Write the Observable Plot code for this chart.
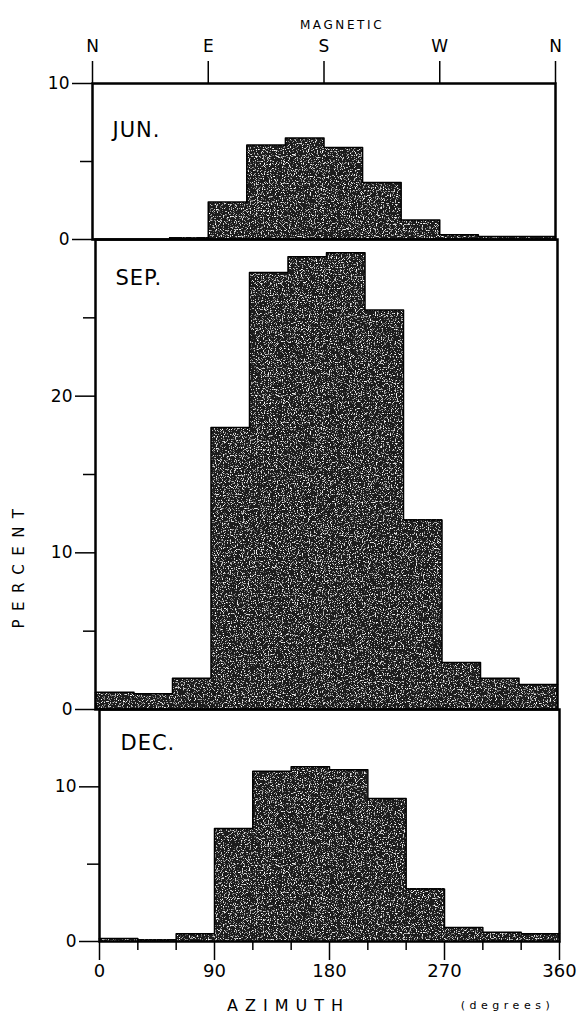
<!DOCTYPE html>
<html>
<head>
<meta charset="utf-8">
<script src="https://cdn.jsdelivr.net/npm/d3@7"></script>
<script src="https://cdn.jsdelivr.net/npm/@observablehq/plot@0.6"></script>
<style>
  html, body { margin: 0; padding: 0; background: #fff; }
  #chart { width: 585px; }
  #chart svg { display: block; overflow: visible; }
  #chart g[aria-label="rect"] { filter: url(#grain); }
  #chart g[aria-label="rect"] rect { shape-rendering: crispEdges; }
</style>
</head>
<body>
<svg width="0" height="0" style="position:absolute">
  <defs>
    <filter id="grain" x="0" y="0" width="100%" height="100%">
      <feTurbulence type="fractalNoise" baseFrequency="0.85" numOctaves="2" seed="4" result="noise"/>
      <feColorMatrix in="noise" type="matrix"
        values="0 0 0 0 1  0 0 0 0 1  0 0 0 0 1  0 0 0 5 -2.8" result="speck"/>
      <feComposite in="speck" in2="SourceGraphic" operator="in" result="speckIn"/>
      <feMerge><feMergeNode in="SourceGraphic"/><feMergeNode in="speckIn"/></feMerge>
    </filter>
  </defs>
</svg>
<div id="chart"></div>
<script>
// ---- data ----
const binStarts = [0, 30, 60, 90, 120, 150, 180, 210, 240, 270, 300, 330];
const binWidth = 30;
const junValues = [0, 0, 0.1, 2.4, 6.05, 6.5, 5.9, 3.65, 1.25, 0.3, 0.2, 0.2];
const sepValues = [1.1, 1.0, 2.0, 18.0, 27.9, 28.9, 29.15, 25.5, 12.1, 3.0, 2.0, 1.6];
const decValues = [0.2, 0.1, 0.5, 7.3, 11.0, 11.3, 11.1, 9.25, 3.4, 0.9, 0.6, 0.5];
const monthLabels = ["JUN.", "SEP.", "DEC."];
const compassTicks = [0, 90, 180, 270, 360];
const compassLabels = ["N", "E", "S", "W", "N"];
const azimuthMajor = [0, 90, 180, 270, 360];
const azimuthMinor = [30, 60, 120, 150, 210, 240, 300, 330];
const xTitle = "AZIMUTH";
const xUnit = "(degrees)";
const yTitle = "PERCENT";
const topTitle = "MAGNETIC";

const FONT = "DejaVu Sans, Liberation Sans, sans-serif";
const BAR_FILL = "#1e1e1e";

function panel(values, o) {
  const rows = binStarts.map((s, i) => ({start: s, end: s + binWidth, value: values[i]}));
  // outline of the histogram as a step line (last bin closed at its end)
  const outline = rows.map(r => ({x: r.start, y: r.value}));
  outline.push({x: rows[rows.length - 1].end, y: rows[rows.length - 1].value});
  const marks = [
    Plot.rectY(rows, {x1: "start", x2: "end", y: "value", fill: BAR_FILL, inset: 0}),
    Plot.line(outline, {x: "x", y: "y", curve: "step-after", stroke: "#000", strokeWidth: 1.5}),
    Plot.ruleX(rows.filter((r, i) => i === 0 || values[i - 1] === 0), {x: "start", y1: 0, y2: "value", stroke: "#000", strokeWidth: 1.5}),
    Plot.frame({stroke: "#000", strokeWidth: 2.5}),
    Plot.axisY(o.yMajor, {tickSize: 20, tickPadding: 3, fontSize: 17, label: null, strokeWidth: 1.5}),
    Plot.axisY(o.yMinor, {tickSize: 12, tickFormat: () => "", label: null, strokeWidth: 1.5}),
    Plot.text([o.label], {frameAnchor: "top-left", dx: o.labelDx, dy: o.labelDy, lineAnchor: "top",
      textAnchor: "start", fontSize: 21, fill: "#000"}),
    ...(o.extra || [])
  ];
  return Plot.plot({
    width: 585,
    height: o.height,
    marginTop: o.marginTop,
    marginBottom: o.marginBottom,
    marginLeft: o.marginLeft,
    marginRight: o.marginRight,
    x: {domain: [0, 360], axis: null},
    y: {domain: [0, o.yMax], axis: null},
    style: {fontFamily: FONT, background: "transparent", overflow: "visible", color: "#000"},
    marks
  });
}

const junPlot = panel(junValues, {
  height: 239, marginTop: 83, marginBottom: 0, marginLeft: 92, marginRight: 30,
  yMax: 10, yMajor: [0, 10], yMinor: [5], label: monthLabels[0], labelDx: 20, labelDy: 39,
  extra: [
    Plot.axisX(compassTicks, {anchor: "top", tickSize: 23, tickPadding: 9, fontSize: 17, label: null,
      strokeWidth: 1.5, tickFormat: d => compassLabels[compassTicks.indexOf(d)]}),
    Plot.text([topTitle], {frameAnchor: "top", dx: 18, dy: -63, fontSize: 12, fill: "#000"})
  ]
});

const sepPlot = panel(sepValues, {
  height: 470, marginTop: 0, marginBottom: 0, marginLeft: 95, marginRight: 28,
  yMax: 30, yMajor: [0, 10, 20], yMinor: [5, 15, 25], label: monthLabels[1], labelDx: 20, labelDy: 31,
  extra: [
    Plot.text([yTitle], {frameAnchor: "left", dx: -76, dy: 154, rotate: -90, fontSize: 15, fill: "#000"})
  ]
});

const decPlot = panel(decValues, {
  height: 310, marginTop: 0, marginBottom: 78, marginLeft: 99, marginRight: 26,
  yMax: 15, yMajor: [0, 10], yMinor: [5], label: monthLabels[2], labelDx: 21, labelDy: 26,
  extra: [
    Plot.axisX(azimuthMajor, {anchor: "bottom", tickSize: 19, tickPadding: 4, fontSize: 18, label: null, strokeWidth: 1.5}),
    Plot.axisX(azimuthMinor, {anchor: "bottom", tickSize: 9, tickFormat: () => "", label: null, strokeWidth: 1.5}),
    Plot.text([xTitle], {frameAnchor: "bottom", dx: -41, dy: 69, fontSize: 16, fill: "#000"}),
    Plot.text([xUnit], {frameAnchor: "bottom", dx: 178, dy: 67, fontSize: 11, fill: "#000"})
  ]
});

const chart = document.getElementById("chart");
chart.append(junPlot, sepPlot, decPlot);

// letter spacing of the hand-lettered titles
const spacing = new Map([
  [yTitle, "8.5px"], [xTitle, "7px"], [xUnit, "4.5px"], [topTitle, "2.6px"],
  ...monthLabels.map(m => [m, "1px"])
]);
d3.select(chart).selectAll("text").each(function () {
  const t = this.textContent;
  if (spacing.has(t)) this.style.letterSpacing = spacing.get(t);
});
</script>
</body>
</html>
